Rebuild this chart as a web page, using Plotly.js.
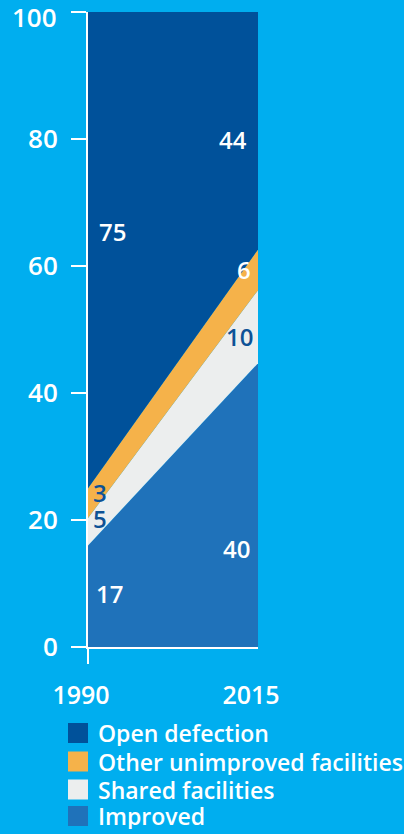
<!DOCTYPE html>
<html>
<head>
<meta charset="utf-8">
<script src="https://cdn.plot.ly/plotly-3.0.1.min.js"></script>
<style>
  html, body { margin: 0; padding: 0; background: #00AEEF; }
  #chart { width: 404px; height: 834px; }
</style>
</head>
<body>
<div id="chart"></div>
<script>
// ---- data ----
const years = [1990, 2015];
const improved = [16, 44.7];
const sharedFacilities = [4.3, 11.5];
const otherUnimproved = [4.7, 6.4];
const openDefection = [75, 37.4];

// printed value labels
const improvedLabels = [17, 40];
const sharedLabels = [5, 10];
const otherLabels = [3, 6];
const openLabels = [75, 44];

const seriesNames = ['Improved', 'Shared facilities', 'Other unimproved facilities', 'Open defection'];
const legendOrder = ['Open defection', 'Other unimproved facilities', 'Shared facilities', 'Improved'];
const yTickVals = [0, 20, 40, 60, 80, 100];
const yTickText = ['0', '20', '40', '60', '80', '100'];
const xTickText = ['1990', '2015'];

// ---- styles ----
const BG = '#00AEEF';
const colors = {
  'Improved': '#1F72BA',
  'Shared facilities': '#ECEEEE',
  'Other unimproved facilities': '#F5B24A',
  'Open defection': '#00519A'
};
const DARK_TXT = '#0D5296';
const FONT = '"Open Sans", "Noto Sans", sans-serif';

const W = 404, H = 834;
const M = {l: 88, r: 146, t: 12, b: 187};
const plotW = W - M.l - M.r, plotH = H - M.t - M.b;
const pxToPaperX = px => (px - M.l) / plotW;
const pxToPaperY = py => (H - M.b - py) / plotH;
const pxToDataX = px => years[0] + (px - M.l) / plotW * (years[1] - years[0]);
const pxToDataY = py => (H - M.b - py) / plotH * 100;

const seriesValues = {
  'Improved': improved,
  'Shared facilities': sharedFacilities,
  'Other unimproved facilities': otherUnimproved,
  'Open defection': openDefection
};

const traces = seriesNames.map(name => ({
  type: 'scatter',
  x: years,
  y: seriesValues[name],
  name: name,
  mode: 'none',
  stackgroup: 'one',
  fill: 'tonexty',
  fillcolor: colors[name],
  line: {width: 0},
  hoverinfo: 'skip',
  showlegend: false
}));

// value label placement (pixel centres), colours
const labelSpecs = [
  {series: openLabels, idx: 0, px: 112, py: 231, color: '#FFFFFF'},
  {series: openLabels, idx: 1, px: 233, py: 139, color: '#FFFFFF'},
  {series: otherLabels, idx: 0, px: 100, py: 492, color: DARK_TXT},
  {series: otherLabels, idx: 1, px: 244, py: 269, color: '#FFFFFF'},
  {series: sharedLabels, idx: 0, px: 100, py: 518, color: DARK_TXT},
  {series: sharedLabels, idx: 1, px: 239, py: 336, color: DARK_TXT},
  {series: improvedLabels, idx: 0, px: 109, py: 593, color: '#FFFFFF'},
  {series: improvedLabels, idx: 1, px: 236, py: 548, color: '#FFFFFF'}
];

const annotations = labelSpecs.map(s => ({
  x: pxToDataX(s.px), y: pxToDataY(s.py), xref: 'x', yref: 'y',
  text: String(s.series[s.idx]), showarrow: false,
  xanchor: 'center', yanchor: 'middle', height: 24,
  font: {family: FONT, size: 24, color: s.color, weight: 600}
}));

// top tick label (sits slightly below its tick, as in the original)
const topIdx = yTickVals.length - 1;
annotations.push({
  x: pxToPaperX(59), y: pxToPaperY(17), xref: 'paper', yref: 'paper',
  text: yTickText[topIdx], showarrow: false, xanchor: 'right', yanchor: 'middle',
  height: 26,
  font: {family: FONT, size: 26, color: '#FFFFFF', weight: 600}
});
const yTickTextAxis = yTickText.map((t, i) => i === topIdx ? '' : t);

// manual legend
const legendRowsY = [733, 761.5, 789.5, 816];
const shapes = [];
legendOrder.forEach((name, i) => {
  const cy = legendRowsY[i];
  shapes.push({
    type: 'rect', xref: 'paper', yref: 'paper',
    x0: pxToPaperX(68), x1: pxToPaperX(88),
    y0: pxToPaperY(cy + 10), y1: pxToPaperY(cy - 10),
    fillcolor: colors[name], line: {width: 0}
  });
  annotations.push({
    x: pxToPaperX(96), y: pxToPaperY(cy), xref: 'paper', yref: 'paper',
    text: name, showarrow: false, xanchor: 'left', yanchor: 'middle',
    height: 26,
    font: {family: FONT, size: 23, color: '#FFFFFF', weight: 600}
  });
});

const layout = {
  width: W, height: H,
  margin: M,
  paper_bgcolor: BG,
  plot_bgcolor: BG,
  showlegend: false,
  font: {family: FONT, color: '#FFFFFF'},
  xaxis: {
    range: [years[0], years[1]],
    tickvals: years,
    ticktext: xTickText,
    ticks: '',
    showgrid: false,
    zeroline: false,
    showline: true,
    linecolor: '#FFFFFF',
    linewidth: 2,
    ticklabelstandoff: 25,
    ticklabelshift: -7,
    tickfont: {family: FONT, size: 25, color: '#FFFFFF', weight: 600},
    minor: {tickvals: [years[0]], ticks: 'outside', ticklen: 15, tickwidth: 2, tickcolor: '#FFFFFF'},
    fixedrange: true
  },
  yaxis: {
    range: [0, 100],
    tickvals: yTickVals,
    ticktext: yTickTextAxis,
    ticks: 'outside',
    ticklen: 15,
    tickwidth: 2,
    tickcolor: '#FFFFFF',
    showgrid: false,
    zeroline: false,
    showline: true,
    linecolor: '#FFFFFF',
    linewidth: 2,
    ticklabelstandoff: 8,
    tickfont: {family: FONT, size: 26, color: '#FFFFFF', weight: 600},
    fixedrange: true
  },
  shapes: shapes,
  annotations: annotations
};

Plotly.newPlot('chart', traces, layout, {displayModeBar: false, staticPlot: true});
</script>
</body>
</html>
